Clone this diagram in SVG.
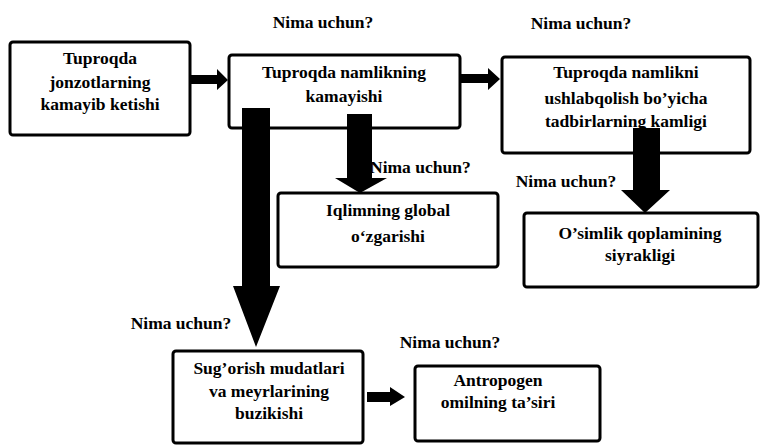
<svg xmlns="http://www.w3.org/2000/svg" width="763" height="446" viewBox="0 0 763 446">
<style>
.box{fill:#fff;stroke:#000;stroke-width:3}
text{font-family:"Liberation Serif","Times New Roman",serif;font-weight:bold;font-size:17.5px;fill:#000}
.c{text-anchor:middle}
.arr{fill:#000}
</style>
<rect width="763" height="446" fill="#fff"/>
<g id="labels">
<text x="323" y="28" class="c">Nima uchun?</text>
<text x="581" y="29" class="c">Nima uchun?</text>
<text x="370" y="173">Nima uchun?</text>
<text x="566" y="187" class="c">Nima uchun?</text>
<text x="181" y="329" class="c">Nima uchun?</text>
<text x="450" y="348" class="c">Nima uchun?</text>
</g>
<g id="n1">
<rect class="box" x="10" y="42" width="180" height="93" rx="3"/>
<text x="100" y="64" class="c">Tuproqda</text>
<text x="100" y="88" class="c">jonzotlarning</text>
<text x="100" y="110" class="c">kamayib ketishi</text>
</g>
<g id="n2">
<rect class="box" x="229" y="55" width="231" height="73" rx="3"/>
<text x="344" y="78" class="c">Tuproqda namlikning</text>
<text x="344" y="102" class="c">kamayishi</text>
</g>
<g id="n3">
<rect class="box" x="502" y="57" width="248" height="96" rx="3"/>
<text x="626" y="78" class="c">Tuproqda namlikni</text>
<text x="626" y="104" class="c">ushlabqolish bo’yicha</text>
<text x="626" y="127" class="c">tadbirlarning kamligi</text>
</g>
<g id="n4">
<rect class="box" x="278" y="193" width="220" height="74" rx="3"/>
<text x="388" y="216" class="c">Iqlimning global</text>
<text x="388" y="242" class="c">o‘zgarishi</text>
</g>
<g id="n5">
<rect class="box" x="524" y="213" width="234" height="74" rx="3"/>
<text x="640" y="239" class="c">O’simlik qoplamining</text>
<text x="640" y="261" class="c">siyrakligi</text>
</g>
<g id="n6">
<rect class="box" x="173" y="351" width="190" height="92" rx="3"/>
<text x="269" y="374" class="c">Sug’orish mudatlari</text>
<text x="269" y="397" class="c">va meyrlarining</text>
<text x="269" y="419" class="c">buzikishi</text>
</g>
<g id="n7">
<rect class="box" x="415" y="366" width="185" height="75" rx="3"/>
<text x="498" y="386" class="c">Antropogen</text>
<text x="498" y="408" class="c">omilning ta’siri</text>
</g>
<g id="connectors">
<polygon class="arr" points="190,75 217,75 217,69 228,80 217,90 217,84 190,84"/>
<polygon class="arr" points="460,74 488,74 488,68 500,79 488,90 488,83 460,83"/>
<polygon class="arr" points="242,108 270,108 270,286 280,286 256,347 233,286 242,286"/>
<polygon class="arr" points="347,114 372,114 372,178 387,178 360,193 335,178 347,178"/>
<polygon class="arr" points="633,128 660,128 660,190 670,190 645,213 621,190 633,190"/>
<polygon class="arr" points="367,392 390,392 390,387 405,397 390,406 390,402 367,402"/>
</g>
</svg>
